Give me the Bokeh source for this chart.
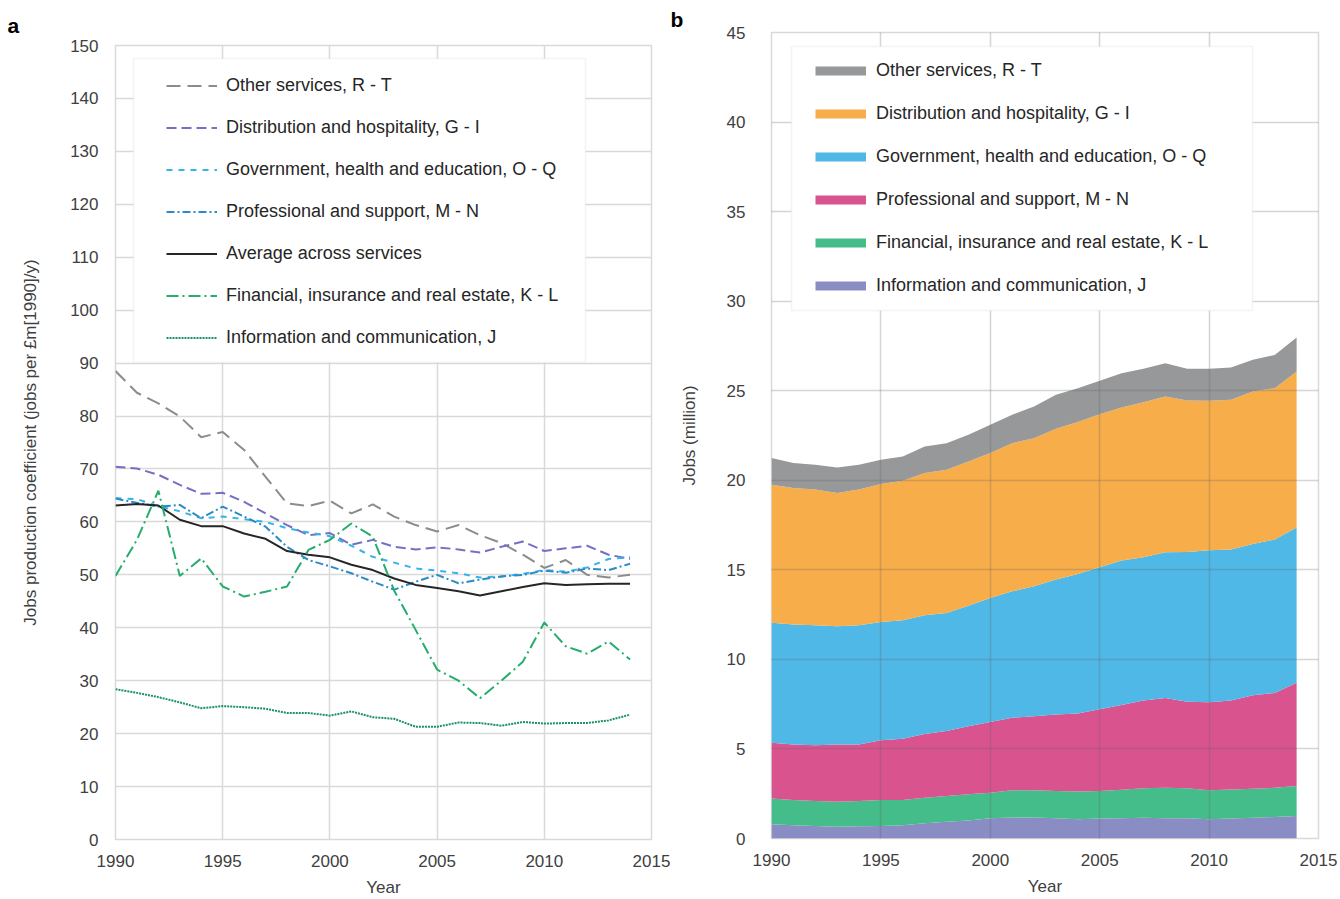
from bokeh.plotting import figure
from bokeh.models import (ColumnDataSource, Range1d, FixedTicker, Legend, LegendItem,
                          BoxAnnotation)
from bokeh.layouts import row, column
from bokeh.embed import file_html
from bokeh.resources import INLINE

# ---------------- data ----------------
years = list(range(1990, 2015))

# panel a: jobs production coefficient (jobs per £m[1990]/y)
coef_other = [88.5, 84.4, 82.4, 79.9, 76.0, 77.0, 73.6, 68.5, 63.5, 63.0, 64.0, 61.6, 63.3,
              61.0, 59.4, 58.2, 59.4, 57.5, 56.0, 53.8, 51.3, 52.8, 50.0, 49.5, 50.0]
coef_dist = [70.4, 70.1, 68.9, 67.0, 65.3, 65.5, 63.8, 61.6, 59.4, 57.5, 57.9, 55.7, 56.6,
             55.3, 54.8, 55.2, 54.8, 54.2, 55.3, 56.3, 54.5, 55.0, 55.5, 53.8, 53.0]
coef_gov = [64.5, 64.3, 63.0, 62.0, 60.7, 61.0, 60.5, 60.0, 58.8, 58.0, 57.3, 55.5, 53.4,
            52.3, 51.2, 50.8, 50.3, 49.5, 49.7, 50.2, 50.9, 50.6, 51.4, 53.0, 53.3]
coef_prof = [64.4, 63.6, 62.9, 63.2, 60.7, 62.9, 61.0, 59.1, 55.3, 52.8, 51.6, 50.3, 48.7,
             47.2, 48.7, 50.0, 48.4, 49.1, 49.7, 50.0, 50.8, 50.4, 51.2, 50.9, 52.1]
coef_avg = [63.1, 63.4, 63.1, 60.4, 59.2, 59.2, 57.8, 56.8, 54.5, 53.8, 53.3, 51.9, 50.9,
            49.3, 48.1, 47.5, 46.9, 46.1, 46.9, 47.7, 48.4, 48.1, 48.2, 48.3, 48.3]
coef_fin = [49.8, 56.6, 65.9, 49.8, 53.1, 47.8, 45.9, 46.8, 47.8, 54.7, 56.6, 59.7, 57.2,
            47.0, 39.6, 32.1, 30.0, 26.7, 30.0, 33.6, 41.0, 36.5, 35.1, 37.4, 34.0]
coef_info = [28.4, 27.7, 26.9, 25.9, 24.8, 25.2, 25.0, 24.7, 23.9, 23.9, 23.4, 24.2, 23.1,
             22.8, 21.3, 21.3, 22.1, 22.0, 21.5, 22.2, 21.9, 22.0, 22.0, 22.5, 23.6]

# panel b: jobs (million), stacked
jobs_info = [0.79, 0.74, 0.70, 0.66, 0.68, 0.70, 0.74, 0.85, 0.94, 1.01, 1.13, 1.17, 1.17,
             1.13, 1.07, 1.11, 1.13, 1.16, 1.13, 1.13, 1.07, 1.11, 1.16, 1.20, 1.25]
jobs_fin = [1.45, 1.41, 1.39, 1.39, 1.41, 1.45, 1.41, 1.43, 1.43, 1.46, 1.42, 1.52, 1.52,
            1.52, 1.56, 1.54, 1.59, 1.64, 1.70, 1.67, 1.62, 1.63, 1.62, 1.63, 1.68]
jobs_prof = [3.10, 3.10, 3.12, 3.20, 3.16, 3.33, 3.42, 3.56, 3.63, 3.80, 3.96, 4.05, 4.14,
             4.28, 4.35, 4.56, 4.73, 4.91, 5.02, 4.83, 4.92, 4.97, 5.22, 5.30, 5.76]
jobs_gov = [6.70, 6.70, 6.70, 6.60, 6.66, 6.61, 6.62, 6.63, 6.59, 6.73, 6.92, 7.06, 7.25,
            7.53, 7.79, 7.93, 8.07, 7.99, 8.13, 8.37, 8.48, 8.42, 8.44, 8.56, 8.68]
jobs_dist = [7.71, 7.62, 7.57, 7.44, 7.57, 7.70, 7.79, 7.93, 8.00, 8.05, 8.09, 8.27, 8.27,
             8.42, 8.48, 8.55, 8.55, 8.66, 8.70, 8.46, 8.35, 8.36, 8.52, 8.45, 8.70]
jobs_other = [1.49, 1.39, 1.39, 1.43, 1.39, 1.36, 1.35, 1.49, 1.48, 1.49, 1.58, 1.59, 1.77,
              1.89, 1.89, 1.86, 1.91, 1.86, 1.86, 1.76, 1.78, 1.81, 1.77, 1.86, 1.90]

x_ticks = [1990, 1995, 2000, 2005, 2010, 2015]
y_ticks_a = list(range(0, 151, 10))
y_ticks_b = list(range(0, 46, 5))

FONT = "Liberation Sans"
TXT = "#404040"
GRID = "#d9d9d9"


def style_axes(p, ylab, ystand, ylabstand):
    for ax in (p.xaxis[0], p.yaxis[0]):
        ax.axis_line_color = None
        ax.major_tick_line_color = None
        ax.minor_tick_line_color = None
        ax.major_tick_out = 0
        ax.major_tick_in = 0
        ax.minor_tick_out = 0
        ax.major_label_text_font = FONT
        ax.major_label_text_font_size = "17px"
        ax.major_label_text_color = TXT
        ax.axis_label_text_font = FONT
        ax.axis_label_text_font_size = "17px"
        ax.axis_label_text_color = TXT
        ax.axis_label_text_font_style = "normal"
    p.xaxis.axis_label = "Year"
    p.xaxis.major_label_standoff = 15
    p.xaxis.axis_label_standoff = 8
    p.yaxis.axis_label = ylab
    p.yaxis.major_label_standoff = ystand
    p.yaxis.axis_label_standoff = ylabstand


def style_title(p, txt, offset, standoff):
    p.title.text = txt
    p.title.align = "left"
    p.title.offset = offset
    p.title.standoff = standoff
    p.title.text_font = FONT
    p.title.text_font_size = "21px"
    p.title.text_font_style = "bold"
    p.title.text_color = "black"


# ---------------- panel a ----------------
p1 = figure(width=670, height=899, x_range=Range1d(1990, 2015), y_range=Range1d(0, 150),
            output_backend="svg", toolbar_location=None,
            min_border_left=115, min_border_right=19, min_border_top=45, min_border_bottom=59)
p1.outline_line_color = GRID
p1.outline_line_width = 1.5
p1.xaxis.ticker = FixedTicker(ticks=x_ticks)
p1.yaxis.ticker = FixedTicker(ticks=y_ticks_a)
p1.xgrid.ticker = FixedTicker(ticks=x_ticks)
p1.ygrid.ticker = FixedTicker(ticks=y_ticks_a)
for g in (p1.xgrid[0], p1.ygrid[0]):
    g.grid_line_color = GRID
    g.grid_line_width = 1.5
style_axes(p1, "Jobs production coefficient (jobs per £m[1990]/y)", 17, 27)
style_title(p1, "a", -108, 17)

src_a = ColumnDataSource(dict(year=years, other=coef_other, dist=coef_dist, gov=coef_gov,
                              prof=coef_prof, avg=coef_avg, fin=coef_fin, info=coef_info))

series_a = [
    ("other", "Other services, R - T", "#8c8c8c", "14 7"),
    ("dist", "Distribution and hospitality, G - I", "#7470c4", "10 5"),
    ("gov", "Government, health and education, O - Q", "#36b4e8", "6 6"),
    ("prof", "Professional and support, M - N", "#2a8bc6", "8 3 2 3"),
    ("avg", "Average across services", "#262626", "solid"),
    ("fin", "Financial, insurance and real estate, K - L", "#25ad6e", "12 4 2 4"),
    ("info", "Information and communication, J", "#1a9160", "2 1"),
]
items_a = []
for key, lab, col, dash in series_a:
    r = p1.line("year", key, source=src_a, line_color=col, line_width=2, line_dash=dash)
    items_a.append(LegendItem(label=lab, renderers=[r]))

box_a = BoxAnnotation(left=133, right=585, top=58, bottom=362,
                      left_units="canvas", right_units="canvas",
                      top_units="canvas", bottom_units="canvas",
                      fill_color="white", fill_alpha=1.0,
                      line_color=GRID, line_width=1.5)
p1.add_layout(box_a)
leg_a = Legend(items=items_a, location=(51, 491), padding=0, margin=0, spacing=21,
               glyph_width=51, glyph_height=21, label_height=21, label_standoff=9,
               border_line_alpha=0, background_fill_alpha=0,
               label_text_font=FONT, label_text_font_size="18px", label_text_color="#262626")
p1.add_layout(leg_a)

# ---------------- panel b ----------------
p2 = figure(width=670, height=899, x_range=Range1d(1990, 2015), y_range=Range1d(0, 45),
            output_backend="svg", toolbar_location=None,
            min_border_left=101, min_border_right=22, min_border_top=32, min_border_bottom=61)
p2.outline_line_color = GRID
p2.outline_line_width = 1.5
p2.xaxis.ticker = FixedTicker(ticks=x_ticks)
p2.yaxis.ticker = FixedTicker(ticks=y_ticks_b)
p2.xgrid.ticker = FixedTicker(ticks=x_ticks)
p2.ygrid.ticker = FixedTicker(ticks=y_ticks_b)
for g in (p2.xgrid[0], p2.ygrid[0]):
    g.grid_line_color = "#646464"
    g.grid_line_alpha = 0.27
    g.grid_line_width = 1.5
    g.level = "guide"
style_axes(p2, "Jobs (million)", 26, 25)
style_title(p2, "b", -101, 4)

stack_keys = ["info", "fin", "prof", "gov", "dist", "other"]
stack_cols = ["#8a8cc4", "#45bd8a", "#d9538f", "#4fb8e6", "#f7ad4a", "#96989a"]
src_b = ColumnDataSource(dict(year=years, info=jobs_info, fin=jobs_fin, prof=jobs_prof,
                              gov=jobs_gov, dist=jobs_dist, other=jobs_other))
p2.varea_stack(stackers=stack_keys, x="year", color=stack_cols, source=src_b)

legend_b = [
    ("other", "Other services, R - T"),
    ("dist", "Distribution and hospitality, G - I"),
    ("gov", "Government, health and education, O - Q"),
    ("prof", "Professional and support, M - N"),
    ("fin", "Financial, insurance and real estate, K - L"),
    ("info", "Information and communication, J"),
]
blank = [float("nan")] * len(years)
items_b = []
for key, lab in legend_b:
    col = stack_cols[stack_keys.index(key)]
    r = p2.line(x=years, y=blank, line_color=col, line_width=9)
    items_b.append(LegendItem(label=lab, renderers=[r]))

box_b = BoxAnnotation(left=121, right=582, top=46, bottom=310,
                      left_units="canvas", right_units="canvas",
                      top_units="canvas", bottom_units="canvas",
                      fill_color="white", fill_alpha=1.0,
                      line_color=GRID, line_width=1.5)
p2.add_layout(box_b)
leg_b = Legend(items=items_b, location=(44, 542), padding=0, margin=0, spacing=22,
               glyph_width=51, glyph_height=21, label_height=21, label_standoff=10,
               border_line_alpha=0, background_fill_alpha=0,
               label_text_font=FONT, label_text_font_size="18px", label_text_color="#262626")
p2.add_layout(leg_b)

# keep each panel's frame where the reference has it (no cross-panel frame alignment)
for p in (p1, p2):
    if "frame_align" in p.properties():
        p.frame_align = False

layout = row(column(p1), column(p2))
open("out.html", "w").write(file_html(layout, INLINE))
